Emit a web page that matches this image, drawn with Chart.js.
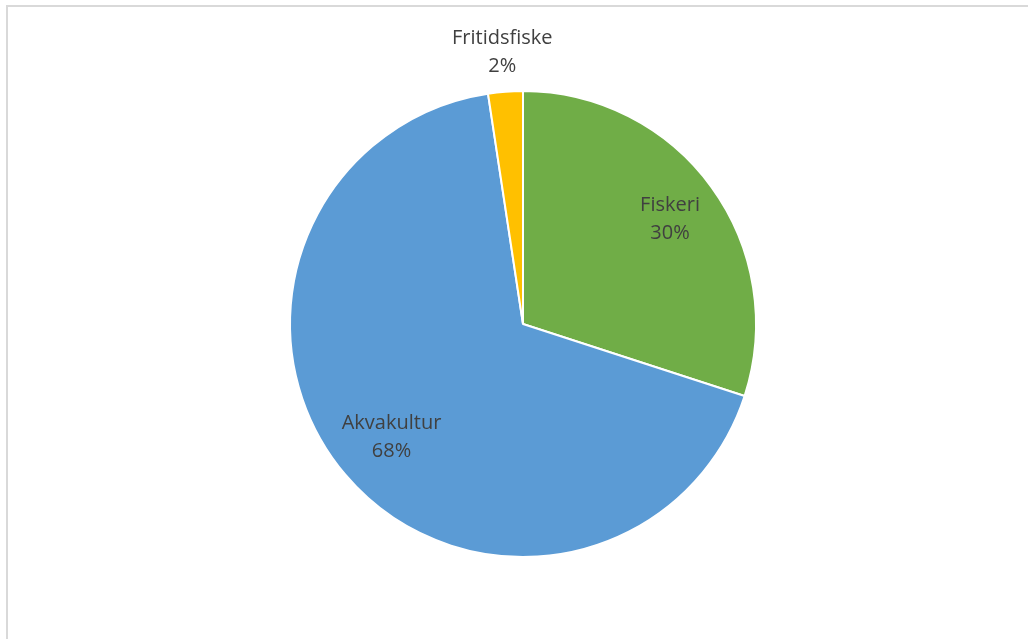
<!DOCTYPE html>
<html>
<head>
<meta charset="utf-8">
<script src="https://cdn.jsdelivr.net/npm/chart.js@4/dist/chart.umd.min.js"></script>
<style>
  html, body { margin: 0; padding: 0; background: #fff; overflow: hidden; }
  #frame { position: absolute; left: 6px; top: 5px; width: 1100px; height: 700px; border: 2px solid #d9d9d9; box-sizing: border-box; }
  #wrap { position: absolute; left: 0; top: 0; width: 1028px; height: 639px; }
</style>
</head>
<body>
<div id="frame"></div>
<div id="wrap"><canvas id="c"></canvas></div>
<script>
var labels = ["Fiskeri", "Akvakultur", "Fritidsfiske"];
var values = [30.0, 67.6, 2.4];
var colors = ["#70ad47", "#5b9bd5", "#ffc000"];

// label distance from centre, as a fraction of the radius
var labelRadius = [0.78, 0.74, 1.18];

var sliceLabels = {
    id: "sliceLabels",
    afterDatasetsDraw: function (chart) {
        var ctx = chart.ctx;
        var meta = chart.getDatasetMeta(0);
        var total = values.reduce(function (a, b) { return a + b; }, 0);
        ctx.save();
        ctx.font = "20px 'Open Sans'";
        ctx.fillStyle = "#404040";
        ctx.textAlign = "center";
        ctx.textBaseline = "middle";
        meta.data.forEach(function (arc, i) {
            var mid = (arc.startAngle + arc.endAngle) / 2;
            var r = arc.outerRadius * labelRadius[i];
            var x = arc.x + Math.cos(mid) * r;
            var y = arc.y + Math.sin(mid) * r + 2;
            var pct = Math.round(values[i] / total * 100) + "%";
            ctx.fillText(labels[i], x, y - 14);
            ctx.fillText(pct, x, y + 14);
        });
        ctx.restore();
    }
};

new Chart(document.getElementById("c").getContext("2d"), {
    type: "pie",
    data: {
        labels: labels,
        datasets: [{
            data: values,
            backgroundColor: colors,
            borderColor: "#ffffff",
            borderWidth: 2
        }]
    },
    options: {
        responsive: true,
        maintainAspectRatio: false,
        animation: false,
        layout: { padding: { left: 18, right: 0, top: 90, bottom: 81 } },
        plugins: {
            legend: { display: false },
            tooltip: { enabled: false }
        }
    },
    plugins: [sliceLabels]
});
</script>
</body>
</html>
